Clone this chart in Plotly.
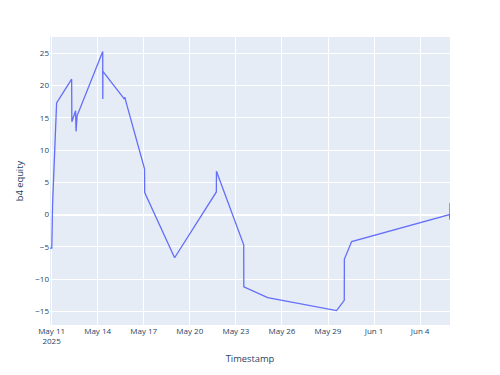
import plotly.graph_objects as go

timestamps = [
    "2025-05-10 21:30", "2025-05-11 00:20", "2025-05-11 01:30", "2025-05-11 07:50",
    "2025-05-12 07:20", "2025-05-12 07:40", "2025-05-12 13:30", "2025-05-12 14:15",
    "2025-05-12 15:50", "2025-05-14 07:55", "2025-05-14 08:00", "2025-05-14 08:10",
    "2025-05-15 17:50", "2025-05-15 18:30", "2025-05-15 20:30", "2025-05-17 01:15",
    "2025-05-17 01:30", "2025-05-19 00:15", "2025-05-21 17:30", "2025-05-21 17:40",
    "2025-05-23 12:15", "2025-05-23 12:25", "2025-05-25 01:40", "2025-05-29 13:25",
    "2025-05-30 01:25", "2025-05-30 01:35", "2025-05-30 13:00", "2025-06-05 21:50",
    "2025-06-05 22:35", "2025-06-05 22:40",
]
equity = [
    -5.2, -5.2, 1.5, 17.3,
    21.0, 14.4, 16.1, 12.9,
    15.3, 25.3, 17.9, 22.2,
    17.9, 18.2, 17.4, 7.1,
    3.4, -6.7, 3.5, 6.7,
    -4.7, -11.2, -12.9, -14.9,
    -13.3, -6.9, -4.2, 0.0,
    -0.8, 1.8,
]

fig = go.Figure(go.Scatter(x=timestamps, y=equity, mode="lines",
                           line=dict(color="#636efa", width=1.3)))
fig.update_layout(
    template="plotly",
    width=500, height=375,
    margin=dict(l=50, r=50, t=37, b=50),
    font=dict(size=8),
    showlegend=False,
)
fig.update_xaxes(title=dict(text="Timestamp", font=dict(size=9.3), standoff=10),
                 tick0="2025-05-11", dtick=3 * 86400000, automargin=False)
fig.update_yaxes(title=dict(text="b4 equity", font=dict(size=9.3), standoff=10),
                 dtick=5, automargin=False)
fig.write_html("out.html")
